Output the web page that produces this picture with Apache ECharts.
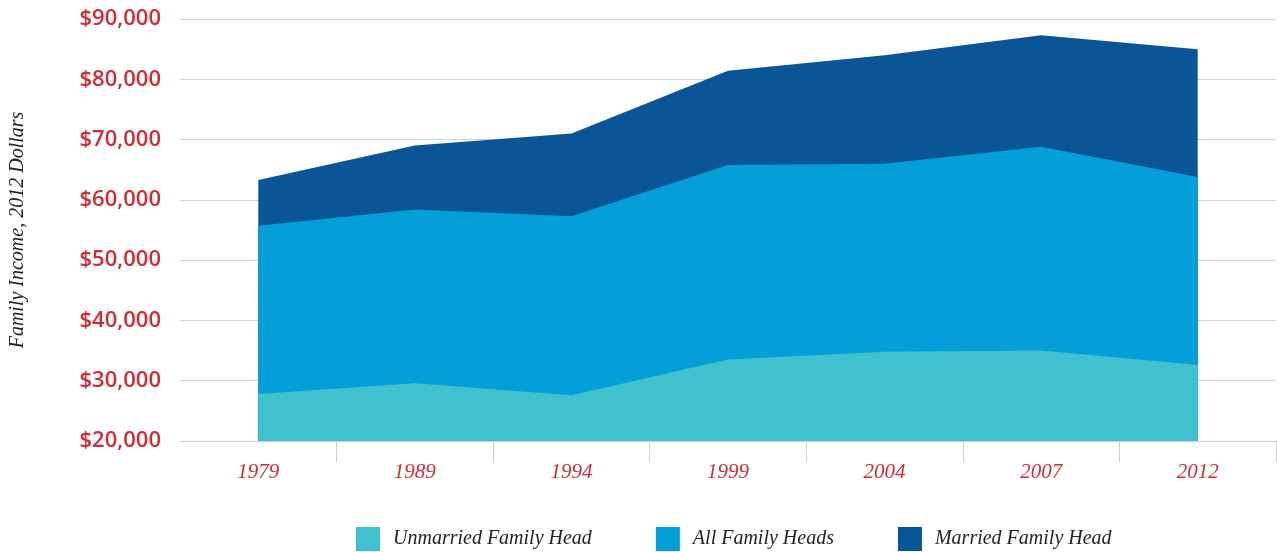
<!DOCTYPE html>
<html>
<head>
<meta charset="utf-8">
<script src="https://cdn.jsdelivr.net/npm/echarts@6/dist/echarts.min.js"></script>
<style>
  html, body { margin: 0; padding: 0; background: #fff; }
  #chart { width: 1277px; height: 552px; }
</style>
</head>
<body>
<div id="chart"></div>
<script>
// values, 2012 dollars
const years = ["1979", "1989", "1994", "1999", "2004", "2007", "2012"]
const married = [63300, 69000, 71000, 81400, 84000, 87300, 85000]
const allHeads = [55700, 58400, 57300, 65800, 66000, 68800, 63800]
const unmarried = [27800, 29600, 27600, 33500, 34800, 35000, 32600]

const red = "#d42a34"
const serif = "'Liberation Serif', 'DejaVu Serif', serif"

function areaSeries(name, data, color) {
  return {
    name: name,
    type: "line",
    data: data,
    symbol: "none",
    lineStyle: { width: 0 },
    areaStyle: { color: color, opacity: 1 },
    itemStyle: { color: color },
    emphasis: { disabled: true }
  }
}

const chart = echarts.init(document.getElementById("chart"))
chart.setOption({
  animation: false,
  grid: { left: 179, right: 1, top: 19, bottom: 111 },
  legend: {
    data: ["Unmarried Family Head", "All Family Heads", "Married Family Head"],
    bottom: -4,
    left: 351,
    icon: "rect",
    itemWidth: 24,
    itemHeight: 24,
    itemGap: 64,
    textStyle: { fontFamily: serif, fontStyle: "italic", fontSize: 20, color: "#222", padding: [0, 0, 0, 8] }
  },
  xAxis: {
    type: "category",
    data: years,
    boundaryGap: true,
    axisLine: { lineStyle: { color: "#cfcfcf", width: 1 } },
    axisTick: { show: true, length: 21, interval: (i) => i > 0 && i < years.length, lineStyle: { color: "#cfcfcf" } },
    axisLabel: { color: red, fontFamily: serif, fontStyle: "italic", fontSize: 21, margin: 21 }
  },
  yAxis: {
    type: "value",
    min: 20000,
    max: 90000,
    interval: 10000,
    name: "Family Income, 2012 Dollars",
    nameLocation: "middle",
    nameGap: 152,
    nameRotate: 90,
    nameTextStyle: { fontFamily: serif, fontStyle: "italic", fontSize: 20, color: "#222" },
    axisLine: { show: false },
    axisTick: { show: false },
    splitLine: { lineStyle: { color: "#d4d4d4", width: 1 } },
    axisLabel: {
      color: red,
      fontFamily: "'Open Sans', Lato, sans-serif",
      fontWeight: 600,
      fontSize: 22,
      margin: 19,
      formatter: v => "$" + v.toLocaleString("en-US")
    }
  },
  series: [
    areaSeries("Married Family Head", married, "#0a5595"),
    areaSeries("All Family Heads", allHeads, "#049fd8"),
    areaSeries("Unmarried Family Head", unmarried, "#41c1ce")
  ]
})
</script>
</body>
</html>
